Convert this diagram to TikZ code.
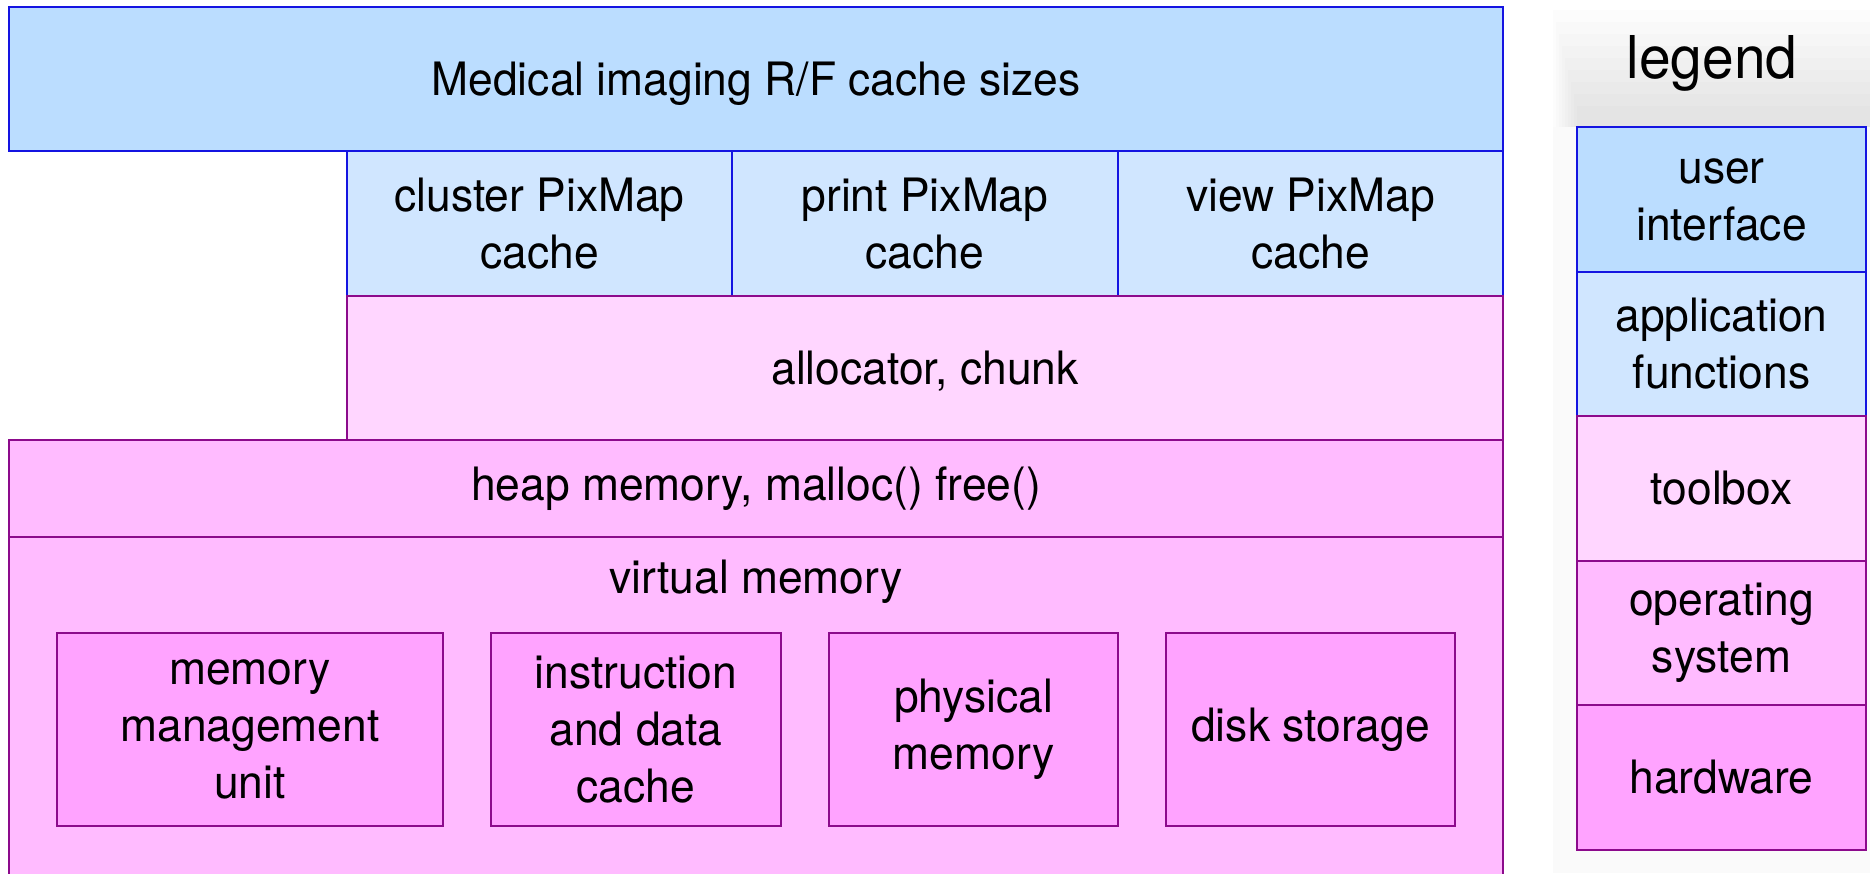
\documentclass[tikz,border=0pt]{standalone}
\usepackage{fontspec}
\setmainfont{TeX Gyre Heros}[FakeStretch=0.965]
\definecolor{uiblue}{RGB}{187,221,255}
\definecolor{appblue}{RGB}{208,230,255}
\definecolor{toolpink}{RGB}{255,214,255}
\definecolor{ospink}{RGB}{255,187,255}
\definecolor{hwpink}{RGB}{255,163,255}
\definecolor{blueline}{RGB}{20,20,225}
\definecolor{purpleline}{RGB}{140,10,140}
\begin{document}
\begin{tikzpicture}[x=1pt, y=-1pt,
  box/.style={rectangle, line width=1.6pt, inner sep=0pt, outer sep=0pt, align=center,
    font=\fontsize{46}{57}\selectfont},
  uibox/.style={box, draw=blueline, fill=uiblue},
  appbox/.style={box, draw=blueline, fill=appblue},
  toolbox/.style={box, draw=purpleline, fill=toolpink},
  osbox/.style={box, draw=purpleline, fill=ospink},
  hwbox/.style={box, draw=purpleline, fill=hwpink}]
\useasboundingbox (0,0) rectangle (1870,873);
\clip (0,0) rectangle (1870,873);
% legend shadow
\fill[black!2] (1553,127) rectangle (1870,873);
\foreach \i in {0,...,8}
  \fill[black, opacity=0.011] (1553+\i*3,10+\i*12) rectangle (1870,127);
% main stack
\node[uibox, minimum width=1494pt, minimum height=144pt, text depth=0pt] (sizes) at (756,79) {Medical imaging R/F cache sizes};
\node[appbox, minimum width=385pt, minimum height=145pt] (cluster) at (539.5,223.5) {cluster PixMap\\cache};
\node[appbox, minimum width=386pt, minimum height=145pt] (print) at (925,223.5) {print PixMap\\cache};
\node[appbox, minimum width=385pt, minimum height=145pt] (view) at (1310.5,223.5) {view PixMap\\cache};
\node[toolbox, minimum width=1156pt, minimum height=144pt, text depth=0pt] (alloc) at (925,368) {allocator, chunk};
\node[osbox, minimum width=1494pt, minimum height=363pt, anchor=north] (virtual) at (756,537) {};
\node[osbox, minimum width=1494pt, minimum height=97pt] (heap) at (756,488.5) {heap memory, malloc() free()};
\node[font=\fontsize{46}{57}\selectfont, inner sep=0pt] (virtlabel) at (756,582) {virtual memory};
\node[hwbox, minimum width=386pt, minimum height=193pt] (mmu) at (250,729.5) {memory\\management\\unit};
\node[hwbox, minimum width=290pt, minimum height=193pt] (instr) at (636,729.5) {instruction\\and data\\cache};
\node[hwbox, minimum width=289pt, minimum height=193pt] (phys) at (973.5,729.5) {physical\\memory};
\node[hwbox, minimum width=289pt, minimum height=193pt] (disk) at (1310.5,729.5) {disk storage};
% legend
\node[font=\fontsize{59}{70}\selectfont, inner sep=0pt] (legendtitle) at (1712,63) {legend};
\node[uibox, minimum width=289pt, minimum height=145pt] (leg1) at (1721.5,199.5) {user\\interface};
\node[appbox, minimum width=289pt, minimum height=144pt] (leg2) at (1721.5,344) {application\\functions};
\node[toolbox, minimum width=289pt, minimum height=145pt] (leg3) at (1721.5,488.5) {toolbox};
\node[osbox, minimum width=289pt, minimum height=144pt] (leg4) at (1721.5,633) {operating\\system};
\node[hwbox, minimum width=289pt, minimum height=145pt] (leg5) at (1721.5,777.5) {hardware};
\end{tikzpicture}
\end{document}
